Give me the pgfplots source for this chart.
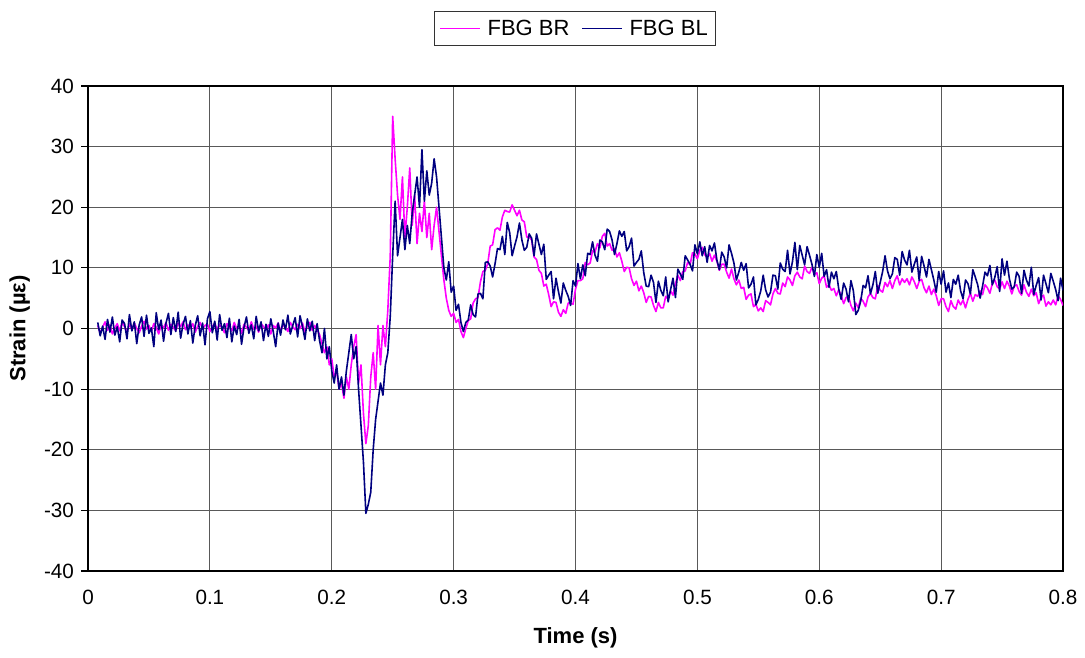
\documentclass[border=0pt]{standalone}
\usepackage{pgfplots}
\usepackage{pgfplotstable}
\pgfplotsset{compat=1.18}
\usepackage{fontspec}
\setmainfont{Liberation Sans}
\definecolor{brcol}{HTML}{FF00FF}
\definecolor{blcol}{HTML}{000080}

\pgfplotstableread{
t br bl
0.008 0.5 1.0
0.010 -0.8 -1.2
0.012 0.2 0.4
0.014 1.1 -1.8
0.016 -0.3 1.5
0.018 0.6 -0.6
0.020 -0.9 1.9
0.022 0.1 -1.1
0.024 0.8 0.3
0.026 -0.4 -2.2
0.028 1.0 1.4
0.030 0.3 0.8
0.032 -0.6 -1.7
0.034 0.7 2.3
0.036 -0.2 -0.4
0.038 0.9 1.1
0.040 0.0 -2.5
0.042 -0.7 0.6
0.044 0.4 1.9
0.046 1.2 -1.3
0.048 -0.1 2.2
0.050 0.5 -0.8
0.052 -0.5 0.1
0.054 0.8 -3.0
0.056 0.2 2.6
0.058 -0.9 -0.2
0.060 0.6 1.4
0.062 0.1 -2.1
0.064 1.0 0.9
0.066 -0.3 2.5
0.068 0.7 -1.0
0.070 0.2 1.8
0.072 -0.4 -0.5
0.074 0.9 2.7
0.076 0.3 -1.6
0.078 1.1 0.7
0.080 -0.2 2.0
0.082 0.6 -0.9
0.084 0.0 1.3
0.086 0.8 -2.4
0.088 -0.6 0.5
0.090 0.4 2.1
0.092 1.0 -1.2
0.094 -0.1 0.9
0.096 0.5 -2.7
0.098 0.7 1.6
0.100 -0.5 2.8
0.102 0.3 -0.7
0.104 0.9 1.2
0.106 -0.2 -1.9
0.108 0.6 2.3
0.110 0.1 -0.3
0.112 -0.7 0.8
0.114 0.8 -1.5
0.116 0.2 1.7
0.118 -0.4 -2.2
0.120 1.0 0.4
0.122 0.0 -1.0
0.124 0.5 1.5
0.126 -0.8 -2.6
0.128 0.7 0.2
0.130 0.2 1.9
0.132 -0.3 -0.8
0.134 1.1 0.6
0.136 -0.1 -1.7
0.138 0.4 2.0
0.140 -0.6 -0.4
0.142 0.8 1.1
0.144 0.3 -2.0
0.146 -0.2 0.7
0.148 0.6 -1.3
0.150 -0.9 1.6
0.152 0.5 -0.5
0.154 0.1 -3.0
0.156 0.9 0.9
0.158 -0.4 -1.1
0.160 0.6 1.4
0.162 0.2 -0.2
0.164 -0.5 2.2
0.166 1.0 -0.9
0.168 0.3 0.5
0.170 -0.2 1.8
0.172 0.7 -1.4
0.174 0.0 2.1
0.176 0.9 0.3
0.178 -0.6 -1.8
0.180 0.4 1.6
0.182 1.0 -0.4
0.184 -0.3 1.2
0.186 0.5 -2.0
0.188 -0.2 0.8
0.190 -1.0 -2.0
0.192 -2.5 -4.0
0.194 -4.0 0.0
0.196 -3.0 -5.0
0.198 -6.0 -3.0
0.200 -5.0 -7.0
0.202 -8.0 -9.0
0.204 -7.0 -6.0
0.206 -10.0 -10.0
0.208 -9.0 -8.0
0.210 -11.5 -11.0
0.212 -8.0 -7.0
0.214 -10.0 -4.0
0.216 -6.0 -1.0
0.218 -3.0 -5.0
0.220 -1.0 -3.0
0.222 -9.0 -10.0
0.224 -6.0 -16.0
0.226 -14.0 -22.0
0.228 -19.0 -30.5
0.230 -16.0 -29.0
0.232 -8.0 -27.0
0.234 -4.0 -20.0
0.236 -10.0 -15.0
0.238 0.5 -12.0
0.240 -6.0 -9.0
0.242 0.5 -11.0
0.244 -3.0 -6.0
0.246 3.0 -4.0
0.248 12.0 2.0
0.250 35.0 12.0
0.252 28.0 21.0
0.254 22.0 12.0
0.256 18.0 15.0
0.258 25.0 18.0
0.260 15.0 13.0
0.262 20.0 17.0
0.264 26.5 14.0
0.266 17.0 19.0
0.268 22.0 22.0
0.270 14.0 25.0
0.272 19.0 20.0
0.274 16.0 29.5
0.276 21.0 21.0
0.278 15.0 26.0
0.280 19.0 22.0
0.282 13.0 24.0
0.284 17.0 28.0
0.286 20.0 25.0
0.288 16.0 20.0
0.290 12.0 15.0
0.292 8.0 10.0
0.294 5.0 8.0
0.296 3.0 11.0
0.298 2.0 6.0
0.300 2.5 7.0
0.302 1.0 3.0
0.304 1.5 4.0
0.306 -0.5 1.0
0.308 -1.5 -0.5
0.310 0.0 1.0
0.312 1.3 1.4
0.314 1.6 3.9
0.316 4.2 2.3
0.318 4.9 1.9
0.320 5.1 5.7
0.322 7.7 5.8
0.324 9.4 4.9
0.326 9.6 10.9
0.328 10.7 11.0
0.330 13.6 10.3
0.332 13.8 8.5
0.334 16.3 10.7
0.336 16.6 13.2
0.338 16.2 13.0
0.340 18.4 15.2
0.342 19.5 12.2
0.344 19.3 17.5
0.346 19.2 15.8
0.348 20.4 12.0
0.350 19.5 13.6
0.352 18.6 15.1
0.354 19.5 17.4
0.356 17.9 14.6
0.358 17.6 12.9
0.360 15.1 13.4
0.362 15.1 15.6
0.364 14.6 14.9
0.366 11.8 12.0
0.368 11.4 15.6
0.370 9.6 13.9
0.372 9.1 12.2
0.374 7.0 13.9
0.376 7.3 8.1
0.378 5.6 8.8
0.380 3.6 9.4
0.382 4.4 4.9
0.384 4.3 8.3
0.386 2.7 6.1
0.388 2.0 4.2
0.390 3.1 7.5
0.392 2.5 6.3
0.394 4.2 5.3
0.396 4.2 3.8
0.398 4.0 7.9
0.400 6.5 7.0
0.402 7.9 10.7
0.404 7.9 8.2
0.406 8.2 10.5
0.408 10.9 8.7
0.410 10.5 12.4
0.412 10.8 12.2
0.414 12.8 14.3
0.416 12.6 12.1
0.418 14.0 11.1
0.420 13.3 14.6
0.422 15.2 14.3
0.424 15.7 13.0
0.426 13.6 16.4
0.428 14.0 16.0
0.430 12.9 14.6
0.432 13.2 12.2
0.434 11.8 14.0
0.436 12.5 16.1
0.438 11.1 15.2
0.440 9.4 16.0
0.442 10.1 12.8
0.444 10.0 13.5
0.446 8.2 14.9
0.448 7.1 10.3
0.450 7.8 10.9
0.452 6.2 11.4
0.454 7.0 12.8
0.456 5.9 9.2
0.458 4.3 7.0
0.460 5.3 6.9
0.462 5.2 8.8
0.464 3.8 7.6
0.466 2.8 4.3
0.468 4.3 7.8
0.470 3.4 6.3
0.472 3.4 5.4
0.474 5.3 8.5
0.476 4.9 4.4
0.478 6.2 6.4
0.480 5.5 8.3
0.482 7.4 5.1
0.484 8.8 9.8
0.486 7.9 9.0
0.488 9.4 8.1
0.490 9.5 12.0
0.492 10.9 11.3
0.494 10.5 10.6
0.496 12.5 9.5
0.498 12.3 13.8
0.500 11.5 12.3
0.502 12.9 14.3
0.504 13.4 12.0
0.506 12.2 13.5
0.508 11.7 10.9
0.510 12.4 13.7
0.512 11.1 12.8
0.514 12.1 14.1
0.516 11.1 11.3
0.518 9.6 9.7
0.520 10.6 12.6
0.522 10.6 11.8
0.524 9.3 10.0
0.526 8.3 13.8
0.528 9.8 12.4
0.530 8.2 10.8
0.532 7.2 8.0
0.534 8.0 9.3
0.536 6.6 10.9
0.538 6.8 9.6
0.540 4.8 10.7
0.542 5.5 6.7
0.544 5.7 7.3
0.546 3.6 8.5
0.548 4.0 3.9
0.550 2.9 4.8
0.552 3.4 6.2
0.554 2.8 8.8
0.556 4.6 6.4
0.558 4.3 5.2
0.560 3.9 6.0
0.562 5.7 8.8
0.564 6.6 8.7
0.566 5.8 6.5
0.568 5.7 10.8
0.570 7.5 9.8
0.572 6.9 9.4
0.574 8.5 12.9
0.576 8.0 9.0
0.578 7.1 11.0
0.580 8.7 14.2
0.582 9.3 9.7
0.584 8.5 13.7
0.586 8.2 12.1
0.588 10.3 10.5
0.590 9.4 13.5
0.592 9.1 12.1
0.594 10.1 10.6
0.596 8.9 8.6
0.598 9.2 12.2
0.600 7.4 10.1
0.602 8.3 12.4
0.604 8.7 8.6
0.606 6.8 9.7
0.608 7.2 6.8
0.610 6.3 9.3
0.612 6.6 8.2
0.614 5.4 9.4
0.616 6.4 6.5
0.618 5.4 4.8
0.620 4.1 7.5
0.622 5.1 6.5
0.624 5.3 4.4
0.626 3.8 7.9
0.628 2.9 6.2
0.630 4.2 2.3
0.632 3.4 3.0
0.634 5.0 4.5
0.636 4.5 7.1
0.638 3.6 6.7
0.640 5.2 8.7
0.642 5.8 5.7
0.644 5.1 7.2
0.646 4.9 9.4
0.648 7.1 5.8
0.650 6.3 7.6
0.652 6.0 9.4
0.654 7.6 12.0
0.656 6.9 9.5
0.658 7.9 8.2
0.660 6.6 9.0
0.662 7.9 11.7
0.664 8.7 11.4
0.666 7.2 8.8
0.668 8.2 12.7
0.670 7.6 11.3
0.672 8.2 10.5
0.674 7.2 12.9
0.676 8.5 9.3
0.678 7.7 10.6
0.680 6.6 11.8
0.682 7.8 7.9
0.684 8.1 11.9
0.686 6.7 10.3
0.688 5.9 8.5
0.690 7.0 11.4
0.692 5.6 9.7
0.694 6.5 8.0
0.696 5.4 6.0
0.698 3.8 9.4
0.700 4.9 7.3
0.702 4.9 9.5
0.704 3.6 6.0
0.706 2.8 7.5
0.708 4.6 5.1
0.710 3.6 8.1
0.712 3.2 7.3
0.714 4.7 8.8
0.716 3.9 6.2
0.718 4.7 4.9
0.720 3.4 8.0
0.722 4.8 7.4
0.724 5.8 5.7
0.726 4.5 9.7
0.728 5.6 8.5
0.730 5.3 7.2
0.732 6.2 5.0
0.734 5.6 7.0
0.736 7.2 9.3
0.738 6.7 8.7
0.740 5.8 10.4
0.742 7.4 7.2
0.744 8.0 8.4
0.746 6.9 10.2
0.748 6.5 6.1
0.750 7.7 11.5
0.752 6.6 8.8
0.754 7.8 11.1
0.756 7.0 8.2
0.758 5.7 6.5
0.760 7.0 6.9
0.762 7.2 9.3
0.764 6.1 8.6
0.766 5.5 5.8
0.768 7.2 9.6
0.770 6.0 8.0
0.772 5.3 7.0
0.774 6.5 10.1
0.776 5.4 5.6
0.778 5.9 7.1
0.780 4.1 8.4
0.782 5.1 4.7
0.784 5.5 8.8
0.786 3.7 7.4
0.788 4.4 5.9
0.790 3.9 9.1
0.792 4.7 7.8
0.794 3.9 6.4
0.796 5.4 4.6
0.798 4.8 8.3
0.800 3.8 6.3
}\fbgdata

\begin{document}
\begin{tikzpicture}
\useasboundingbox (-66pt,-64.5pt) rectangle (747.75pt,428.25pt);
\begin{axis}[
  at={(0,0)}, anchor=south west,
  width=731.25pt, height=363.75pt, scale only axis,
  xmin=0, xmax=0.8, ymin=-40, ymax=40,
  xtick={0,0.1,0.2,0.3,0.4,0.5,0.6,0.7,0.8},
  xticklabels={0,0.1,0.2,0.3,0.4,0.5,0.6,0.7,0.8},
  ytick={-40,-30,-20,-10,0,10,20,30,40},
  yticklabels={-40,-30,-20,-10,0,10,20,30,40},
  grid=major,
  major grid style={line width=0.9pt, black!65},
  axis line style={line width=0.9pt, black},
  xtick style={draw=none},
  ytick style={line width=0.9pt, black},
  ytick pos=left,
  tick align=outside,
  major tick length=5pt,
  tick label style={font=\fontsize{15.5}{18}\selectfont},
  yticklabel style={xshift=-2pt},
  xticklabel style={yshift=-6pt},
  xlabel={\bfseries Time (s)},
  ylabel={\bfseries Strain (µε)},
  label style={font=\fontsize{16.5}{19}\selectfont},
  xlabel style={at={(axis description cs:0.5,-0.138)}, anchor=center},
  ylabel style={at={(axis description cs:-0.070,0.5)}, anchor=center},
  legend columns=2,
  legend style={at={(axis description cs:0.4995,1.1186)}, anchor=center,
    draw=black!80, line width=0.75pt, font=\fontsize{16.5}{19}\selectfont,
    inner xsep=4pt, inner ysep=4.5pt,
    /tikz/every odd column/.append style={column sep=3pt},
    /tikz/every even column/.append style={column sep=7pt}},
  legend image code/.code={\draw[#1, line width=1pt] (0pt,0pt) -- (30pt,0pt);},
]
\addplot[brcol, line width=1.2pt, line join=round] table[x=t, y=br] {\fbgdata};
\addlegendentry{FBG BR}
\addplot[blcol, line width=1.2pt, line join=round] table[x=t, y=bl] {\fbgdata};
\addlegendentry{FBG BL}
\end{axis}
\end{tikzpicture}
\end{document}
